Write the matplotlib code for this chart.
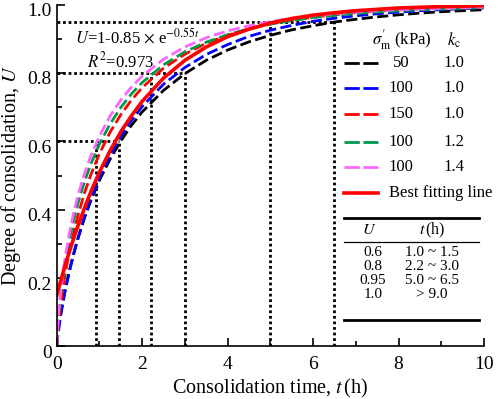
import numpy as np
import matplotlib
matplotlib.use("Agg")
import matplotlib.pyplot as plt
import matplotlib.transforms as mtransforms
from matplotlib.ticker import MultipleLocator, FuncFormatter

plt.rcParams['font.family'] = ['Liberation Serif', 'DejaVu Serif']
plt.rcParams['mathtext.fontset'] = 'stix'

# time (h) and degree of consolidation
t = [0, 0.03, 0.06, 0.1, 0.15, 0.2, 0.3, 0.4, 0.5, 0.65, 0.8, 1.0, 1.25, 1.5, 1.75, 2.0, 2.5, 3.0,
     3.5, 4.0, 4.5, 5.0, 5.5, 6.0, 6.5, 7.0, 7.5, 8.0, 8.5, 9.0, 9.5, 10.0]
u_50_10 = [0.000, 0.039, 0.068, 0.100, 0.136, 0.168, 0.224, 0.273, 0.317, 0.376, 0.427, 0.486, 0.548, 0.601,
           0.647, 0.686, 0.749, 0.798, 0.837, 0.867, 0.891, 0.910, 0.926, 0.938, 0.949, 0.957, 0.964, 0.970,
           0.975, 0.979, 0.982, 0.985]
u_100_10 = [0.000, 0.036, 0.064, 0.096, 0.131, 0.164, 0.221, 0.272, 0.318, 0.379, 0.432, 0.493, 0.559, 0.614,
            0.661, 0.702, 0.767, 0.816, 0.854, 0.883, 0.907, 0.925, 0.939, 0.951, 0.960, 0.967, 0.973, 0.978,
            0.982, 0.985, 0.988, 0.990]
u_150_10 = [0.000, 0.054, 0.091, 0.131, 0.175, 0.214, 0.280, 0.336, 0.385, 0.449, 0.503, 0.564, 0.627, 0.678,
            0.721, 0.757, 0.814, 0.855, 0.887, 0.910, 0.929, 0.943, 0.954, 0.963, 0.970, 0.976, 0.980, 0.984,
            0.987, 0.989, 0.991, 0.992]
u_100_12 = [0.000, 0.069, 0.112, 0.157, 0.205, 0.245, 0.314, 0.371, 0.420, 0.482, 0.534, 0.592, 0.651, 0.699,
            0.739, 0.772, 0.824, 0.862, 0.890, 0.912, 0.929, 0.943, 0.953, 0.962, 0.968, 0.974, 0.978, 0.982,
            0.985, 0.987, 0.989, 0.991]
u_100_14 = [0.000, 0.076, 0.122, 0.170, 0.220, 0.263, 0.334, 0.393, 0.443, 0.506, 0.558, 0.616, 0.674, 0.721,
            0.759, 0.791, 0.840, 0.876, 0.903, 0.923, 0.938, 0.950, 0.960, 0.967, 0.973, 0.978, 0.982, 0.985,
            0.987, 0.989, 0.991, 0.993]
u_fit = [0.150, 0.164, 0.178, 0.195, 0.217, 0.239, 0.279, 0.318, 0.354, 0.405, 0.453, 0.510, 0.573, 0.628,
         0.675, 0.717, 0.785, 0.837, 0.876, 0.906, 0.928, 0.946, 0.959, 0.969, 0.976, 0.982, 0.986, 0.990,
         0.992, 0.994, 0.995, 0.997]

sigma = ['50', '100', '150', '100', '100']
kc = ['1.0', '1.0', '1.0', '1.2', '1.4']
colors = ['black', '#0000ff', '#ff0000', '#00994c', '#ff66ff']
series = [u_50_10, u_100_10, u_150_10, u_100_12, u_100_14]

# guide lines: U level and the time range reaching it
u_levels = [0.6, 0.8, 0.95]
t_low = [0.92, 2.2, 5.0]
t_high = [1.45, 3.0, 6.5]

# table
tab_u = ['0.6', '0.8', '0.95', '1.0']
tab_t = ['1.0 ~ 1.5', '2.2 ~ 3.0', '5.0 ~ 6.5', '> 9.0']

fig = plt.figure(figsize=(4.98, 3.99), dpi=100)
ax = fig.add_axes([0.1139, 0.1316, 0.858, 0.857])

dot = (0, (1, 1))
for lv, a, b in zip(u_levels, t_low, t_high):
    ax.plot([0, b], [lv, lv], color='black', ls=dot, lw=2)
    ax.plot([a, a], [0, lv], color='black', ls=dot, lw=2)
    ax.plot([b, b], [0, lv], color='black', ls=dot, lw=2)

for u, c in zip(series, colors):
    ax.plot(t, u, color=c, ls=(0, (4, 1.6)), lw=2)
ax.plot(t, u_fit, color='#ff0000', lw=2.6)

ax.set_xlim(0, 10)
ax.set_ylim(0, 1.0)
ax.spines['top'].set_visible(False)
ax.spines['right'].set_visible(False)
ax.xaxis.set_major_locator(MultipleLocator(2))
ax.xaxis.set_minor_locator(MultipleLocator(1))
ax.yaxis.set_major_locator(MultipleLocator(0.2))
ax.yaxis.set_minor_locator(MultipleLocator(0.1))
ax.yaxis.set_major_formatter(FuncFormatter(lambda v, p: '0' if abs(v) < 1e-9 else '%.1f' % v))
ax.tick_params(which='both', direction='in', labelsize=14, width=1.2)
ax.tick_params(which='major', length=6)
ax.tick_params(axis='x', which='major', pad=7)
ax.tick_params(which='minor', length=3.5)
for s in ['left', 'bottom']:
    ax.spines[s].set_linewidth(1.2)

# the y tick labels sit a little below their ticks
shift = mtransforms.ScaledTranslation(0, -5 / 100.0, fig.dpi_scale_trans)
for lab in ax.get_yticklabels():
    lab.set_transform(lab.get_transform() + shift)

ax.set_xlabel(r'Consolidation time, $t\,$(h)', fontsize=14.5, labelpad=3)
ax.set_ylabel(r'Degree of consolidation, $U$', fontsize=14.5, labelpad=3)

ax.text(0.043, 0.905, r'$U$=1-0.85 $\times$ e$^{-0.55t}$', transform=ax.transAxes, fontsize=12, va='center')
ax.text(0.07, 0.835, r'$R^2$=0.973', transform=ax.transAxes, fontsize=12, va='center')


def fx(px):
    return px / 498.0


def fy(py):
    return 1 - py / 399.0


# legend
fig.text(fx(402), fy(40), r"$\sigma^{\prime}_{\rm m}$ (kPa)", fontsize=12, ha='center', va='center')
fig.text(fx(454), fy(40), r"$k_{\rm c}$", fontsize=12, ha='center', va='center')
rows = [63, 88, 114, 142, 167]
for py, s, k, c in zip(rows, sigma, kc, colors):
    fig.add_artist(plt.Line2D([fx(344), fx(378)], [fy(py), fy(py)], color=c, ls=(0, (5.5, 1.3)), lw=2))
    fig.text(fx(401), fy(py), s, fontsize=12, ha='center', va='center')
    fig.text(fx(454), fy(py), k, fontsize=12, ha='center', va='center')
fig.add_artist(plt.Line2D([fx(344), fx(378)], [fy(193), fy(193)], color='#ff0000', lw=2.6))
fig.text(fx(389), fy(193), 'Best fitting line', fontsize=12, ha='left', va='center')

# table
fig.add_artist(plt.Line2D([fx(344), fx(479)], [fy(218), fy(218)], color='black', lw=2))
fig.add_artist(plt.Line2D([fx(344), fx(479)], [fy(242), fy(242)], color='black', lw=0.9))
fig.add_artist(plt.Line2D([fx(344), fx(479)], [fy(320), fy(320)], color='black', lw=2))
fig.text(fx(369), fy(230), r'$U$', fontsize=11.5, ha='center', va='center')
fig.text(fx(432), fy(230), r'$t\,$(h)', fontsize=11.5, ha='center', va='center')
for py, a, b in zip([252, 267, 281, 295], tab_u, tab_t):
    fig.text(fx(373), fy(py), a, fontsize=11, ha='center', va='center')
    fig.text(fx(432), fy(py), b, fontsize=11, ha='center', va='center')

fig.savefig('out.png', dpi=100)
